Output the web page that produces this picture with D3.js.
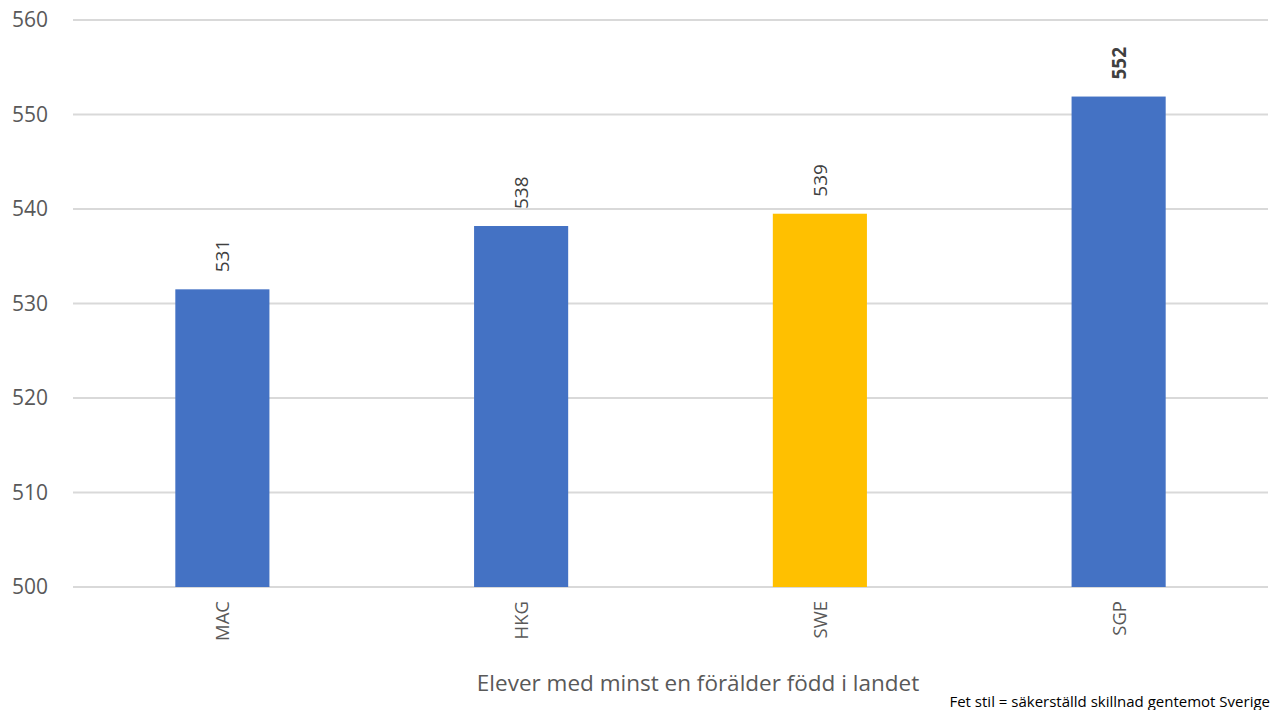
<!DOCTYPE html>
<html>
<head>
<meta charset="utf-8">
<script src="https://cdn.jsdelivr.net/npm/d3@7"></script>
<style>
  body { margin: 0; background: #fff; }
  text { font-family: "Open Sans", "Noto Sans", sans-serif; }
</style>
</head>
<body>
<svg id="chart" width="1270" height="710"></svg>
<script>
const countries = ['MAC', 'HKG', 'SWE', 'SGP'];
const scores = [531.5, 538.2, 539.5, 551.9];
const shownLabels = ['531', '538', '539', '552'];
const significant = [false, false, false, true];
const yTicks = [500, 510, 520, 530, 540, 550, 560];

const svg = d3.select('#chart');
const margin = {top: 20, right: 2, bottom: 123, left: 73};
const width = 1270 - margin.left - margin.right;
const height = 710 - margin.top - margin.bottom;

const g = svg.append('g')
    .attr('transform', `translate(${margin.left},${margin.top})`);

const x = d3.scaleBand()
    .domain(countries)
    .range([0, width])
    .paddingInner(0.685)
    .paddingOuter(0.3425);

const y = d3.scaleLinear()
    .domain([500, 560])
    .range([height, 0]);

// gridlines
g.selectAll('.grid')
  .data(yTicks)
  .join('line')
    .attr('x1', 0)
    .attr('x2', width)
    .attr('y1', d => y(d))
    .attr('y2', d => y(d))
    .attr('stroke', '#d9d9d9')
    .attr('stroke-width', 2);

// y tick labels
g.selectAll('.ytick')
  .data(yTicks)
  .join('text')
    .attr('x', -25)
    .attr('y', d => y(d))
    .attr('dy', '0.35em')
    .attr('text-anchor', 'end')
    .attr('font-size', 21)
    .attr('fill', '#595959')
    .text(d => d);

const data = countries.map((c, i) => ({c, v: scores[i], label: shownLabels[i], bold: significant[i]}));

g.selectAll('.bar')
  .data(data)
  .join('rect')
    .attr('x', d => x(d.c))
    .attr('width', x.bandwidth())
    .attr('y', d => y(d.v))
    .attr('height', d => y(500) - y(d.v))
    .attr('fill', d => d.c === 'SWE' ? '#ffc000' : '#4472c4');

// value labels
g.selectAll('.val')
  .data(data)
  .join('text')
    .attr('transform', d => `translate(${x(d.c) + x.bandwidth() / 2 + 7},${y(d.v) - 17}) rotate(-90)`)
    .attr('text-anchor', 'start')
    .attr('font-size', 19)
    .attr('font-weight', d => d.bold ? 'bold' : 'normal')
    .attr('fill', '#404040')
    .text(d => d.label);

// category labels
g.selectAll('.cat')
  .data(countries)
  .join('text')
    .attr('transform', d => `translate(${x(d) + x.bandwidth() / 2 + 7},${height + 14}) rotate(-90)`)
    .attr('text-anchor', 'end')
    .attr('font-size', 18.5)
    .attr('fill', '#595959')
    .text(d => d);

svg.append('text')
    .attr('x', 698)
    .attr('y', 691)
    .attr('text-anchor', 'middle')
    .attr('font-size', 22.5)
    .attr('fill', '#595959')
    .text('Elever med minst en förälder född i landet');

svg.append('text')
    .attr('x', 1270)
    .attr('y', 707)
    .attr('text-anchor', 'end')
    .attr('font-size', 15)
    .attr('fill', '#000')
    .text('Fet stil = säkerställd skillnad gentemot Sverige');
</script>
</body>
</html>
